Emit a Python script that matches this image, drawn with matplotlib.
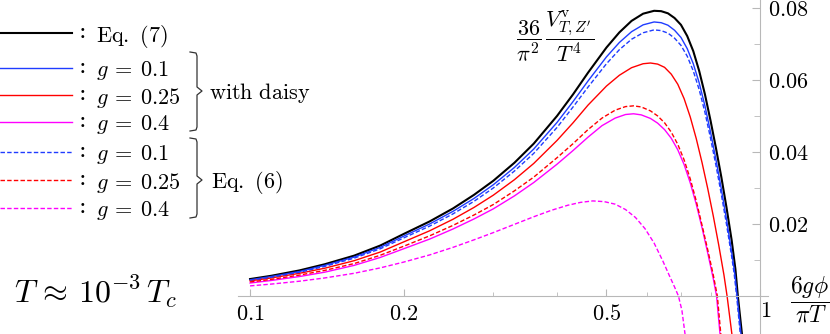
import matplotlib
matplotlib.use("Agg")
import matplotlib.pyplot as plt
from matplotlib.ticker import FixedLocator, NullFormatter

plt.rcParams['mathtext.fontset'] = 'cm'
plt.rcParams['font.family'] = ['DejaVu Serif']

# ---------------- data ----------------
x_eq7 = [0.1, 0.11, 0.125, 0.14, 0.16, 0.18, 0.2, 0.225, 0.25, 0.275, 0.3, 0.33, 0.36, 0.4,
         0.43, 0.46, 0.5, 0.53, 0.56, 0.59, 0.62, 0.64, 0.66, 0.68, 0.7, 0.72, 0.74, 0.76,
         0.78, 0.8, 0.82, 0.84, 0.86, 0.88, 0.895, 0.905, 0.922]
y_eq7 = [0.0047, 0.0056, 0.0071, 0.0088, 0.0112, 0.0140, 0.0172, 0.0207, 0.0243, 0.0281,
         0.0320, 0.0370, 0.0423, 0.0500, 0.0560, 0.0620, 0.0690, 0.0732, 0.0764, 0.0784,
         0.0792, 0.0791, 0.0785, 0.0772, 0.0753, 0.0722, 0.0680, 0.0625, 0.0560, 0.0487,
         0.0410, 0.0330, 0.0245, 0.0155, 0.0075, 0.0, -0.0106]

x_d01 = [0.1, 0.11, 0.125, 0.14, 0.16, 0.18, 0.2, 0.225, 0.25, 0.275, 0.3, 0.33, 0.36, 0.4,
         0.43, 0.46, 0.5, 0.53, 0.56, 0.59, 0.62, 0.64, 0.66, 0.68, 0.7, 0.72, 0.74, 0.76,
         0.78, 0.8, 0.82, 0.84, 0.86, 0.88, 0.893, 0.902, 0.918]
y_d01 = [0.0045, 0.0054, 0.0068, 0.0085, 0.0108, 0.0135, 0.0166, 0.0200, 0.0235, 0.0271,
         0.0309, 0.0357, 0.0408, 0.0482, 0.0540, 0.0597, 0.0664, 0.0704, 0.0734, 0.0753,
         0.0761, 0.0759, 0.0752, 0.0738, 0.0718, 0.0687, 0.0645, 0.0592, 0.0528, 0.0455,
         0.0378, 0.0297, 0.0212, 0.0122, 0.0060, 0.0, -0.0106]

x_e01 = [0.1, 0.11, 0.125, 0.14, 0.16, 0.18, 0.2, 0.225, 0.25, 0.275, 0.3, 0.33, 0.36, 0.4,
         0.43, 0.46, 0.5, 0.53, 0.56, 0.59, 0.62, 0.64, 0.66, 0.68, 0.7, 0.72, 0.74, 0.76,
         0.78, 0.8, 0.82, 0.84, 0.86, 0.88, 0.89, 0.9, 0.915]
y_e01 = [0.0044, 0.0052, 0.0066, 0.0082, 0.0105, 0.0131, 0.0161, 0.0194, 0.0228, 0.0263,
         0.0300, 0.0347, 0.0396, 0.0468, 0.0525, 0.0580, 0.0645, 0.0684, 0.0713, 0.0731,
         0.0739, 0.0737, 0.0730, 0.0716, 0.0696, 0.0666, 0.0625, 0.0573, 0.0510, 0.0438,
         0.0362, 0.0282, 0.0198, 0.0110, 0.0062, 0.0, -0.0106]

x_d025 = [0.1, 0.11, 0.125, 0.14, 0.16, 0.18, 0.2, 0.225, 0.25, 0.275, 0.3, 0.33, 0.36, 0.4,
          0.43, 0.46, 0.5, 0.53, 0.56, 0.59, 0.61, 0.63, 0.65, 0.67, 0.69, 0.71, 0.73, 0.75,
          0.77, 0.79, 0.81, 0.83, 0.85, 0.862, 0.881]
y_d025 = [0.0042, 0.0050, 0.0063, 0.0077, 0.0098, 0.0122, 0.0150, 0.0181, 0.0213, 0.0246,
          0.0280, 0.0323, 0.0368, 0.0432, 0.0481, 0.0530, 0.0583, 0.0613, 0.0634, 0.0645,
          0.0647, 0.0644, 0.0635, 0.0616, 0.0588, 0.0548, 0.0497, 0.0437, 0.0370, 0.0298,
          0.0222, 0.0142, 0.0058, 0.0, -0.0106]

x_e025 = [0.1, 0.11, 0.125, 0.14, 0.16, 0.18, 0.2, 0.225, 0.25, 0.275, 0.3, 0.33, 0.36, 0.4,
          0.43, 0.46, 0.49, 0.52, 0.545, 0.565, 0.585, 0.61, 0.63, 0.65, 0.67, 0.69, 0.71,
          0.73, 0.75, 0.77, 0.79, 0.81, 0.825, 0.838]
y_e025 = [0.0039, 0.0046, 0.0058, 0.0071, 0.0090, 0.0113, 0.0138, 0.0167, 0.0196, 0.0225,
          0.0254, 0.0292, 0.0330, 0.0384, 0.0423, 0.0462, 0.0494, 0.0516, 0.0526, 0.0528,
          0.0525, 0.0514, 0.0500, 0.0481, 0.0455, 0.0421, 0.0378, 0.0325, 0.0264, 0.0196,
          0.0128, 0.0058, 0.0, -0.0106]

x_d04 = [0.1, 0.11, 0.125, 0.14, 0.16, 0.18, 0.2, 0.225, 0.25, 0.275, 0.3, 0.33, 0.36, 0.4,
         0.43, 0.46, 0.49, 0.52, 0.545, 0.565, 0.585, 0.61, 0.63, 0.65, 0.67, 0.69, 0.71,
         0.73, 0.75, 0.77, 0.79, 0.81, 0.822, 0.835]
y_d04 = [0.0036, 0.0043, 0.0054, 0.0066, 0.0085, 0.0107, 0.0131, 0.0158, 0.0186, 0.0214,
         0.0242, 0.0278, 0.0315, 0.0366, 0.0404, 0.0441, 0.0473, 0.0494, 0.0504, 0.0506,
         0.0503, 0.0493, 0.0480, 0.0462, 0.0438, 0.0406, 0.0365, 0.0314, 0.0255, 0.0189,
         0.0119, 0.0048, 0.0, -0.0106]

x_e04 = [0.1, 0.11, 0.125, 0.14, 0.16, 0.18, 0.2, 0.225, 0.25, 0.275, 0.3, 0.33, 0.36, 0.39,
         0.42, 0.445, 0.47, 0.495, 0.52, 0.545, 0.57, 0.595, 0.62, 0.645, 0.665, 0.68, 0.692,
         0.703, 0.713]
y_e04 = [0.0028, 0.0033, 0.0041, 0.0050, 0.0063, 0.0078, 0.0094, 0.0114, 0.0135, 0.0156,
         0.0176, 0.0199, 0.0220, 0.0238, 0.0252, 0.0260, 0.0264, 0.0262, 0.0255, 0.0240,
         0.0218, 0.0187, 0.0147, 0.0097, 0.0055, 0.0025, 0.0, -0.0040, -0.0106]

legend_labels = [r"$\mathrm{Eq.}\ (7)$", r"$g\:=\:0.1$", r"$g\:=\:0.25$", r"$g\:=\:0.4$",
                 r"$g\:=\:0.1$", r"$g\:=\:0.25$", r"$g\:=\:0.4$"]
group_labels = [r"$\mathrm{with\ daisy}$", r"$\mathrm{Eq.}\ (6)$"]
xtick_vals = [0.1, 0.2, 0.5, 1.0]
xtick_labels = ["0.1", "0.2", "0.5", "1"]
xminor_vals = [0.3, 0.4, 0.6, 0.7, 0.8, 0.9]
ytick_vals = [0.02, 0.04, 0.06, 0.08]
ytick_labels = ["0.02", "0.04", "0.06", "0.08"]
yminor_vals = [0.01, 0.03, 0.05, 0.07]

BLUE = '#1f3cff'
RED = '#ff0000'
MAG = '#ff00ff'
DASH = (0, (3.2, 1.6))

series = [
    (x_eq7, y_eq7, 'black', '-', 1.5),
    (x_d01, y_d01, BLUE, '-', 1.0),
    (x_d025, y_d025, RED, '-', 1.0),
    (x_d04, y_d04, MAG, '-', 1.0),
    (x_e01, y_e01, BLUE, DASH, 1.0),
    (x_e025, y_e025, RED, DASH, 1.0),
    (x_e04, y_e04, MAG, DASH, 1.0),
]

W, H = 830, 334
fig = plt.figure(figsize=(W / 100, H / 100), dpi=100)

# overlay (pixel coordinates) for legend / annotations
ov = fig.add_axes([0, 0, 1, 1])
ov.set_xlim(0, W)
ov.set_ylim(H, 0)
ov.axis('off')

ax = fig.add_axes([238 / W, 0, (768 - 238) / W, 1])
ax.patch.set_alpha(0)
ax.set_xscale('log')
ax.set_xlim(0.0947, 1.037)
ax.set_ylim(-0.01056, 0.0822)

for xs, ys, c, ls, lw in series:
    ax.plot(xs, ys, color=c, linestyle=ls, linewidth=lw, solid_joinstyle='round')

gray = '#b8b8b8'
ax.spines['top'].set_visible(False)
ax.spines['left'].set_visible(False)
ax.spines['right'].set_position(('data', 1.0))
ax.spines['bottom'].set_position(('data', 0.0))
for s in ('right', 'bottom'):
    ax.spines[s].set_color(gray)
    ax.spines[s].set_linewidth(0.8)

ax.xaxis.set_major_locator(FixedLocator(xtick_vals))
ax.xaxis.set_minor_locator(FixedLocator(xminor_vals))
ax.xaxis.set_minor_formatter(NullFormatter())
ax.set_xticklabels(["$%s$" % t for t in xtick_labels[:-1]] + [""])
ax.tick_params(axis='x', which='major', direction='in', length=5, width=0.8, color=gray,
               pad=5, labelsize=16)
ax.tick_params(axis='x', which='minor', direction='in', length=3, width=0.6, color=gray)

ax.yaxis.set_ticks_position('right')
ax.yaxis.set_major_locator(FixedLocator(ytick_vals))
ax.yaxis.set_minor_locator(FixedLocator(yminor_vals))
ax.set_yticklabels(["$%s$" % t for t in ytick_labels])
ax.tick_params(axis='y', which='major', direction='in', length=6, width=0.8, color=gray,
               pad=6, labelsize=16)
ax.tick_params(axis='y', which='minor', direction='in', length=4, width=0.6, color=gray)

# the "1" label sits just right of the vertical axis
ax.annotate("$%s$" % xtick_labels[-1], xy=(xtick_vals[-1], 0), xycoords='data',
            xytext=(6, -15), textcoords='offset pixels', ha='center', va='center',
            fontsize=16)

# axis labels
ov.text(810, 300, r"$\dfrac{6g\phi}{\pi T}$", fontsize=17, ha='center', va='center')
ov.text(555, 36, r"$\dfrac{36}{\pi^2}\,\dfrac{V^{\mathrm{v}}_{T,Z'}}{T^4}$", fontsize=16,
        ha='center', va='center')
ov.text(14, 292, r"$T\,\approx\,10^{-3}\,T_c$", fontsize=23, ha='left', va='center')

# legend
leg_y = [33, 68, 95, 122, 152, 180, 208]
for (xs, ys, c, ls, lw), yy, lab in zip(series, leg_y, legend_labels):
    ov.plot([0, 72], [yy, yy], color=c, linestyle=ls, linewidth=lw)
    ov.text(82, yy - 1, ":", fontsize=16, ha='center', va='center')
    ov.text(96, yy, lab, fontsize=16, ha='left', va='center_baseline')


def brace(x, y0, y1, ym):
    xs = [x - 7, x - 1, x, x, x + 5, x, x, x - 1, x - 7]
    ys = [y0, y0 + 1, y0 + 4, ym - 4, ym, ym + 4, y1 - 4, y1 - 1, y1]
    ov.plot(xs, ys, color='#333333', linewidth=0.9)


brace(197, 52, 131, 91)
brace(197, 138, 218, 180)
ov.text(209, 90, group_labels[0], fontsize=16, ha='left', va='center_baseline')
ov.text(211, 179, group_labels[1], fontsize=16, ha='left', va='center_baseline')

fig.savefig("out.png", dpi=100)
